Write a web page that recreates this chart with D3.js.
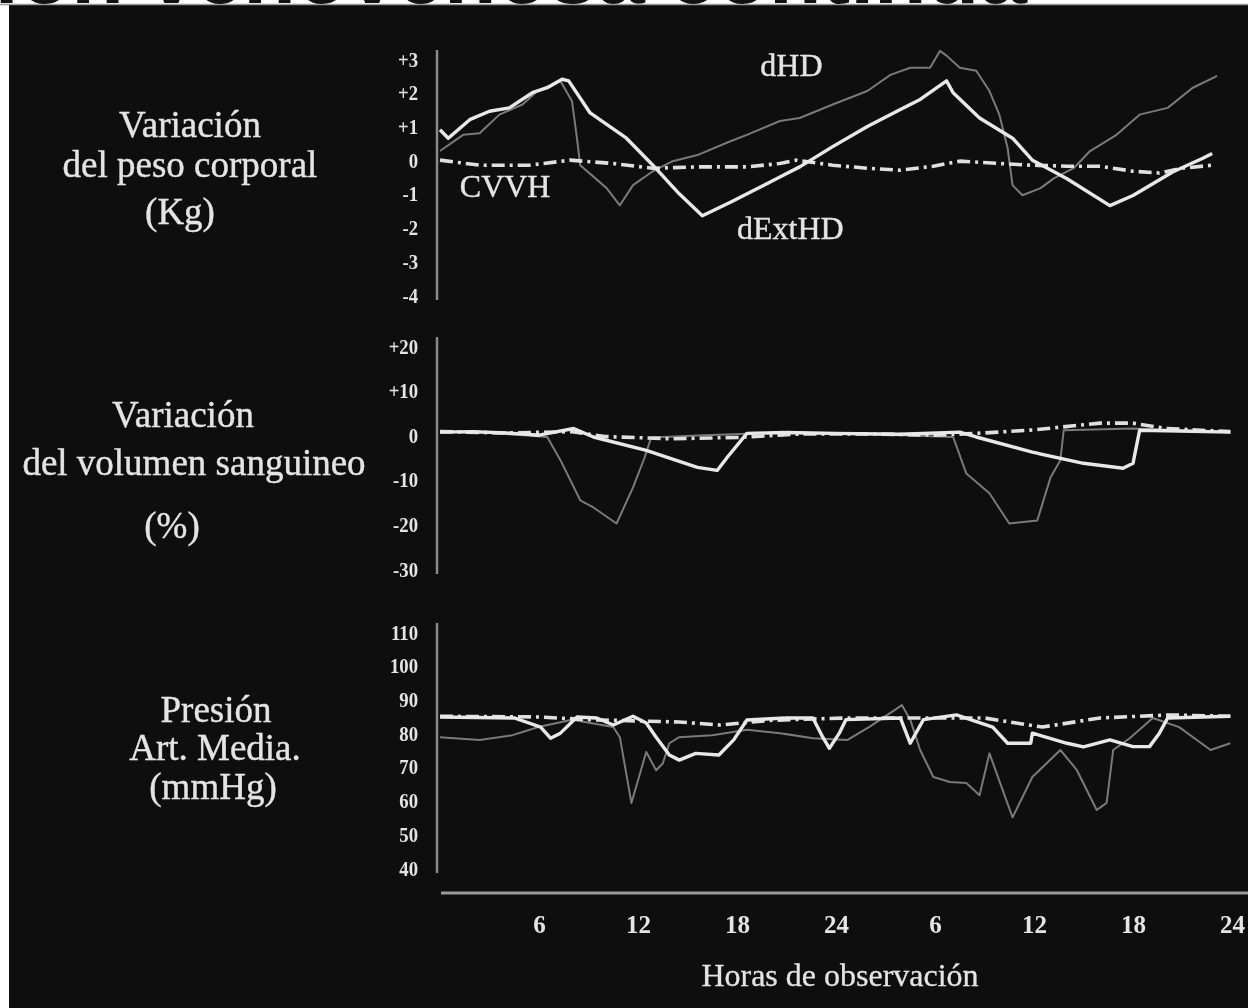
<!DOCTYPE html>
<html>
<head>
<meta charset="utf-8">
<script src="https://cdn.jsdelivr.net/npm/d3@7/dist/d3.min.js"></script>
<style>
  html, body { margin: 0; padding: 0; background: #fff; }
  svg { display: block; }
</style>
</head>
<body>
<svg id="chart" width="1248" height="1008"></svg>
<script>
// horas 0-48 (dos días de 24 h)
const hourTicks = [6, 12, 18, 24, 30, 36, 42, 48];

// Variación del peso corporal (Kg)
const pesoTicks = [3, 2, 1, 0, -1, -2, -3, -4];
const pesoDHD = [[0,0.27],[1.4,0.75],[2.4,0.8],[3.6,1.35],[5,1.65],[5.9,2.05],[7.3,2.35],[8,1.75],[8.3,0.65],[8.5,-0.15],[10.1,-0.83],[10.9,-1.34],[11.7,-0.74],[12.9,-0.33],[14.1,-0.03],[15.6,0.15],[17.6,0.56],[18.6,0.75],[20.6,1.16],[21.8,1.25],[23.8,1.65],[25.9,2.05],[27.3,2.53],[28.5,2.74],[29.7,2.74],[30.3,3.24],[30.7,3.1],[31.5,2.74],[32.5,2.65],[33.3,2.05],[33.9,1.35],[34.4,0.36],[34.7,-0.74],[35.3,-1.04],[36.4,-0.83],[37.2,-0.54],[38.4,-0.24],[39.4,0.27],[41,0.75],[42.4,1.35],[44.1,1.55],[45.6,2.14],[47.1,2.5]];
const pesoCVVH = [[0,0],[2.4,-0.15],[5.4,-0.15],[7.9,0],[10.5,-0.1],[12.9,-0.24],[15.6,-0.2],[18.6,-0.2],[20.6,-0.1],[21.6,0],[23.8,-0.15],[25.9,-0.24],[27.9,-0.3],[29.9,-0.18],[31.5,-0.03],[33.9,-0.1],[35.9,-0.15],[38,-0.18],[40,-0.18],[42,-0.33],[43.6,-0.38],[45,-0.24],[46.8,-0.15]];
const pesoExt = [[0,0.9],[0.5,0.65],[1.8,1.2],[3,1.45],[4.2,1.55],[5.6,2.0],[6.5,2.15],[7.4,2.4],[7.8,2.35],[9.1,1.4],[11.3,0.65],[12.9,-0.15],[14.5,-1.0],[15.9,-1.65],[17.6,-1.25],[19.6,-0.75],[21.8,-0.2],[23.8,0.4],[25.9,1.0],[27.9,1.5],[29.1,1.8],[30.7,2.35],[31.1,2.0],[32.7,1.25],[34.7,0.65],[35.9,0.0],[38,-0.55],[40.6,-1.35],[42,-1.05],[44.4,-0.35],[46.2,0.05],[46.8,0.2]];

// Variación del volumen sanguineo (%)
const volTicks = [20, 10, 0, -10, -20, -30];
const volDHD = [[0,0.8],[3,0.5],[6.5,-0.4],[7.3,-5.6],[8.5,-14.6],[9.3,-16.2],[10.7,-19.8],[11.7,-11.7],[12.4,-5],[12.8,-0.5],[16,0],[20,0.5],[24,0.3],[28,0],[31.1,-0.4],[31.9,-8.6],[33.3,-13],[34.5,-19.8],[36.2,-19.1],[37,-9.5],[37.6,-5.6],[37.8,1.1],[42,1.5],[47.9,0.7]];
const volCVVH = [[0,0.8],[4,0.5],[8,0.8],[10,-0.3],[14,-0.8],[18,-0.5],[22,0.3],[26,0.3],[30,0],[33,0.5],[36,1.2],[40,2.7],[42,2.7],[44,1.5],[47.9,0.8]];
const volExt = [[0,0.7],[2,0.8],[4,0.5],[6,0],[8.1,1.5],[9.3,-0.4],[12.5,-3.4],[15.6,-7.2],[16.8,-7.9],[17.4,-5],[18.6,0.4],[21,0.6],[24,0.4],[27.9,0.2],[31.5,0.7],[32.5,-0.4],[35.9,-3.8],[39,-6.3],[41.4,-7.4],[42,-6.3],[42.4,1.1],[44,1.0],[47.9,0.7]];

// Presión arterial media (mmHg)
const presTicks = [110, 100, 90, 80, 70, 60, 50, 40];
const presDHD = [[0,78.8],[2.4,78],[4.4,79.4],[6.1,82],[8,84],[10.5,81.8],[10.9,78.8],[11.6,59.3],[12.5,74.4],[13.1,69],[13.5,71],[13.9,77],[14.5,78.8],[16.5,79.4],[18.6,81],[20.6,80],[22.6,78.5],[24.7,78],[26,81.8],[28,88.3],[28.5,84],[29.1,75],[29.9,67],[30.9,65.5],[31.9,65.2],[32.7,61.6],[33.3,74],[34.7,55],[35.9,67],[37.6,75],[38.6,69],[39.8,57.2],[40.4,59.3],[40.8,75],[41.8,78.5],[43.2,84.5],[44.8,81.8],[46.7,75],[47.9,77]];
const presCVVH = [[0,85],[6,84.8],[9,84],[14.5,83.3],[17,82.4],[20,83.8],[24.7,84.5],[28,84.5],[33,84.5],[36.5,81.8],[40,84.5],[44.2,85.4],[47.9,85]];
const presExt = [[0,84.8],[4.5,84.5],[6.1,81.8],[6.7,78.5],[7.3,80],[8.3,84.8],[9.5,84.5],[10.5,82.4],[11.7,85],[12.5,83],[13.1,78.8],[13.9,73.5],[14.5,72],[15.5,74],[16.9,73.5],[17.8,78],[18.6,83.9],[21,84.5],[22.6,84.5],[23.2,78.8],[23.6,75.5],[24.2,80],[24.6,84],[27.9,84.5],[28.5,77],[29.3,84],[31.3,85.4],[33.5,81.8],[34.4,77],[35.8,77],[35.9,80],[38,77],[39,75.9],[40.6,78],[42,76],[43,76],[43.6,80],[44.1,84.5],[47.9,85]];

// etiquetas dentro del primer panel: [hora, valor, texto]
const pesoNotes = [[21.3, 2.5, "dHD"], [1.2, -1.1, "CVVH"], [18, -2.35, "dExtHD"]];

const svg = d3.select("#chart");
const W = 1248, H = 1008;
const serif = "'Liberation Serif', 'Times New Roman', serif";
const ink = "#e4e4e4";

// fondo: borde blanco y recuadro negro
svg.append("rect").attr("width", W).attr("height", H).attr("fill", "#fff");
svg.append("rect").attr("x", 9).attr("y", 5).attr("width", W - 9).attr("height", H - 5).attr("fill", "#0e0e0e");
svg.append("line").attr("x1", 0).attr("x2", W).attr("y1", 4.5).attr("y2", 4.5)
    .attr("stroke", "#9a9a9a").attr("stroke-width", 1.5);

// título cortado arriba (solo asoma la parte baja de las letras)
svg.append("clipPath").attr("id", "topclip")
  .append("rect").attr("x", 0).attr("y", 0).attr("width", W).attr("height", 4);
svg.append("text")
    .attr("clip-path", "url(#topclip)")
    .attr("x", 1027).attr("y", 3)
    .attr("text-anchor", "end")
    .style("font-family", "'Liberation Sans', Arial, sans-serif")
    .style("font-weight", "bold")
    .style("font-size", "86px")
    .attr("fill", "#111")
    .text("hemofiltración venovenosa continua");

const defs = svg.append("defs");
defs.append("filter").attr("id", "soft")
  .append("feGaussianBlur").attr("stdDeviation", 0.6);

const g = svg.append("g").attr("filter", "url(#soft)");

const x = d3.scaleLinear().domain([0, 48]).range([440, 1232]);
const axisX = 437;
const squeeze = 0.85; // las cifras del eje y son algo estrechas

const panels = [
  { y: d3.scaleLinear().domain([-4, 3]).range([295, 59]), ticks: pesoTicks,
    fmt: d => d > 0 ? "+" + d : String(d), series: [pesoDHD, pesoCVVH, pesoExt],
    title: [["Variación", 190, 137], ["del peso corporal", 190, 177], ["(Kg)", 180, 224]] },
  { y: d3.scaleLinear().domain([-30, 20]).range([569, 346]), ticks: volTicks,
    fmt: d => d > 0 ? "+" + d : String(d), series: [volDHD, volCVVH, volExt],
    title: [["Variación", 183, 427], ["del volumen sanguineo", 194, 475], ["(%)", 172, 538]] },
  { y: d3.scaleLinear().domain([40, 110]).range([868, 632]), ticks: presTicks,
    fmt: d => String(d), series: [presDHD, presCVVH, presExt],
    title: [["Presión", 216, 722], ["Art. Media.", 215, 760], ["(mmHg)", 213, 799]] }
];

// estilo de cada serie: dHD gris fino, CVVH punto-raya, dExtHD blanco grueso
const styles = [
  { stroke: "#7a7a7a", width: 2, dash: null },
  { stroke: "#e0e0e0", width: 3.6, dash: "13,5,3,5" },
  { stroke: "#e8e8e8", width: 3.4, dash: null }
];

panels.forEach(p => {
  const r = p.y.range();
  // eje vertical
  g.append("line")
      .attr("x1", axisX).attr("x2", axisX)
      .attr("y1", r[1] - 9).attr("y2", r[0] + 5)
      .attr("stroke", "#8a8a8a").attr("stroke-width", 2.5);

  const ax = g.append("g")
      .attr("transform", `translate(${axisX},0)`)
      .call(d3.axisLeft(p.y).tickValues(p.ticks).tickFormat(p.fmt).tickSize(0).tickPadding(19));
  ax.select(".domain").remove();
  ax.selectAll("text")
      .attr("x", -19 / squeeze)
      .attr("transform", `scale(${squeeze},1)`)
      .attr("fill", ink)
      .style("font-family", serif)
      .style("font-weight", "bold")
      .style("font-size", "22px");

  // título del panel
  g.selectAll(null).data(p.title).enter().append("text")
      .attr("x", d => d[1]).attr("y", d => d[2])
      .attr("text-anchor", "middle")
      .attr("fill", ink)
      .attr("stroke", ink).attr("stroke-width", 0.4)
      .style("font-family", serif)
      .style("font-size", "37px")
      .text(d => d[0]);

  const line = d3.line().x(d => x(d[0])).y(d => p.y(d[1]));
  p.series.forEach((s, i) => {
    const st = styles[i];
    g.append("path")
        .datum(s)
        .attr("d", line)
        .attr("fill", "none")
        .attr("stroke", st.stroke)
        .attr("stroke-width", st.width)
        .attr("stroke-linejoin", "round")
        .attr("stroke-dasharray", st.dash);
  });
});

// etiquetas de las curvas
const y0 = panels[0].y;
g.selectAll(null).data(pesoNotes).enter().append("text")
    .attr("x", d => x(d[0])).attr("y", d => y0(d[1]))
    .attr("text-anchor", (d, i) => i === 0 ? "middle" : "start")
    .attr("fill", ink)
    .attr("stroke", ink).attr("stroke-width", 0.4)
    .style("font-family", serif)
    .style("font-size", "32px")
    .text(d => d[2]);

// eje horizontal
const xBase = 893;
g.append("line")
    .attr("x1", axisX + 4).attr("x2", W)
    .attr("y1", xBase).attr("y2", xBase)
    .attr("stroke", "#9a9a9a").attr("stroke-width", 3);
const bx = g.append("g")
    .attr("transform", `translate(0,${xBase})`)
    .call(d3.axisBottom(x).tickValues(hourTicks).tickFormat(d => d > 24 ? d - 24 : d).tickSize(0).tickPadding(22));
bx.select(".domain").remove();
bx.selectAll("text")
    .attr("fill", ink)
    .style("font-family", serif)
    .style("font-weight", "bold")
    .style("font-size", "25px");

g.append("text")
    .attr("x", 840).attr("y", 986)
    .attr("text-anchor", "middle")
    .attr("fill", ink)
    .attr("stroke", ink).attr("stroke-width", 0.3)
    .style("font-family", serif)
    .style("font-size", "32px")
    .text("Horas de observación");
</script>
</body>
</html>
